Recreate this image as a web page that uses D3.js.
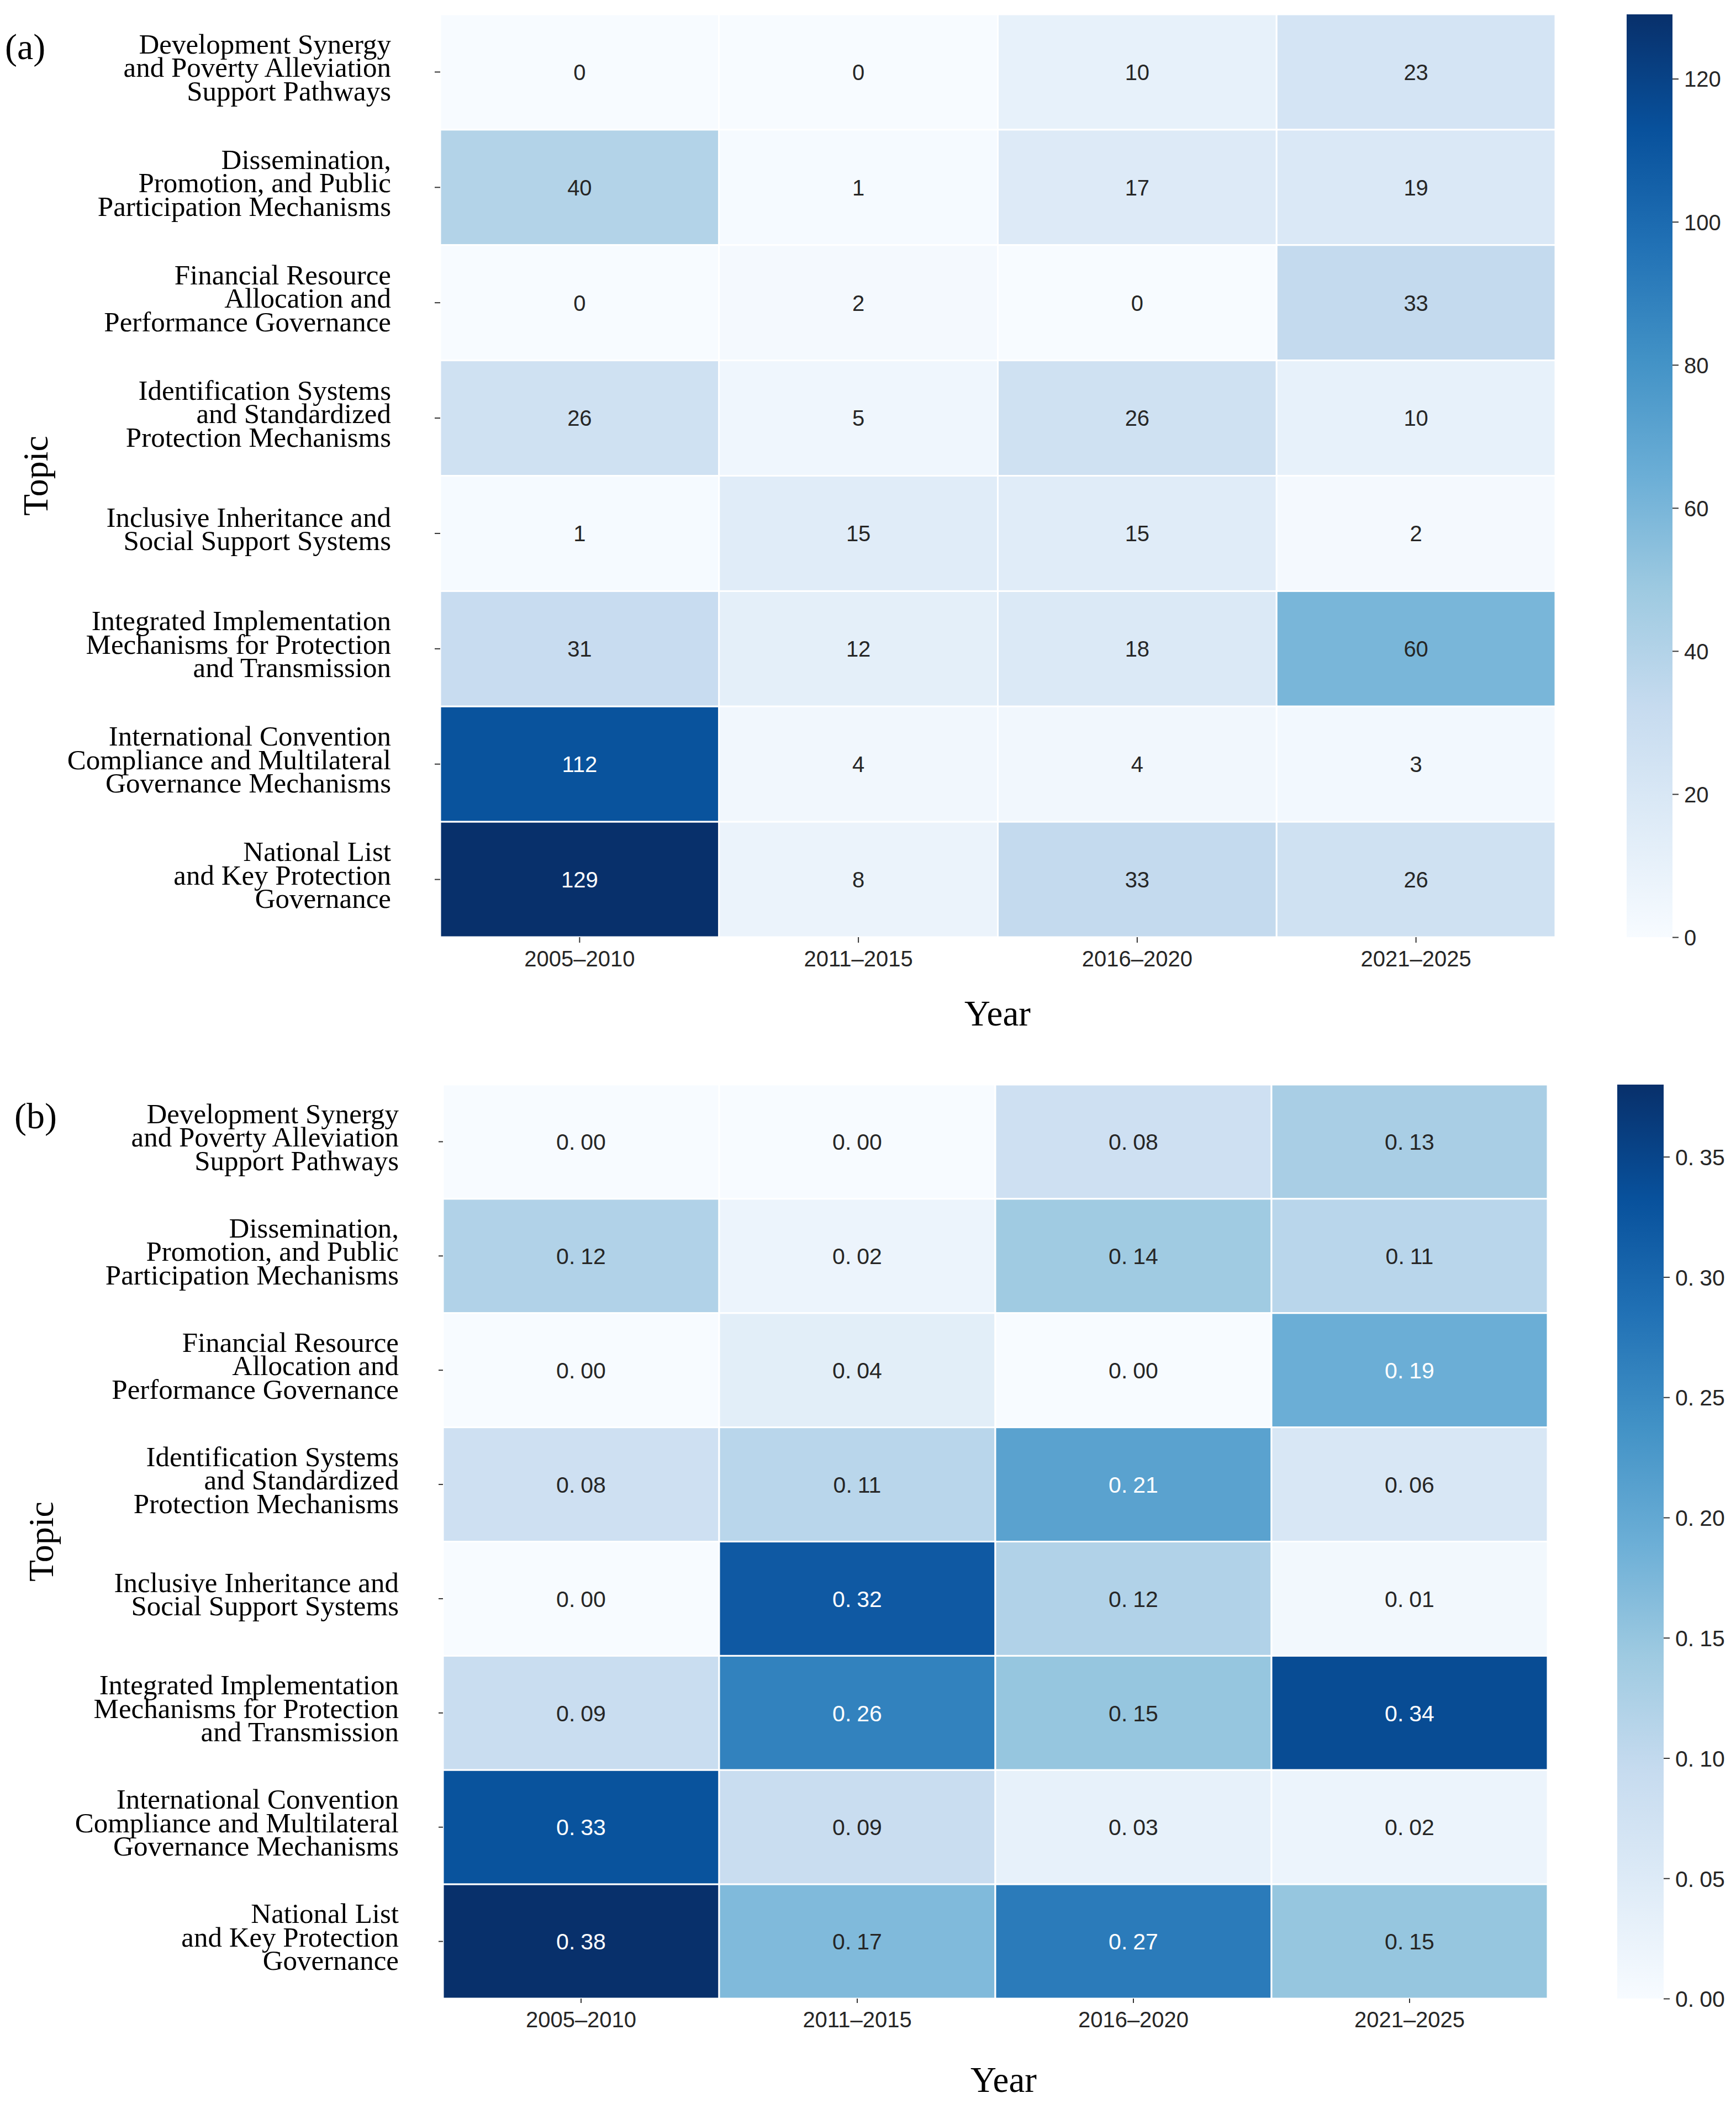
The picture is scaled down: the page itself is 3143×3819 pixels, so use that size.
<!DOCTYPE html>
<html lang="en">
<head>
<meta charset="UTF-8">
<title>Topic by period heatmaps</title>
<script src="https://cdn.jsdelivr.net/npm/d3@7"></script>
<style>
  body { margin: 0; background: #fff; }
  svg { display: block; }
  .serif { font-family: "Liberation Serif", "Times New Roman", serif; fill: #000; }
  .sans { font-family: "Liberation Sans", Arial, sans-serif; }
  .tick line { stroke: #333; stroke-width: 2; }
</style>
</head>
<body>
<svg id="chart" width="3143" height="3819"></svg>
<script>

// topics, top to bottom (line breaks as in the figure)
var topics = [
    "Development Synergy\nand Poverty Alleviation\nSupport Pathways",
    "Dissemination,\nPromotion, and Public\nParticipation Mechanisms",
    "Financial Resource\nAllocation and\nPerformance Governance",
    "Identification Systems\nand Standardized\nProtection Mechanisms",
    "Inclusive Inheritance and\nSocial Support Systems",
    "Integrated Implementation\nMechanisms for Protection\nand Transmission",
    "International Convention\nCompliance and Multilateral\nGovernance Mechanisms",
    "National List\nand Key Protection\nGovernance"
];

var years = ["2005\u20132010", "2011\u20132015", "2016\u20132020", "2021\u20132025"];

// (a) number of documents
var counts = [
    [0, 0, 10, 23],
    [40, 1, 17, 19],
    [0, 2, 0, 33],
    [26, 5, 26, 10],
    [1, 15, 15, 2],
    [31, 12, 18, 60],
    [112, 4, 4, 3],
    [129, 8, 33, 26]
];

// (b) share within each period
var shares = [
    [0.00, 0.00, 0.08, 0.13],
    [0.12, 0.02, 0.14, 0.11],
    [0.00, 0.04, 0.00, 0.19],
    [0.08, 0.11, 0.21, 0.06],
    [0.00, 0.32, 0.12, 0.01],
    [0.09, 0.26, 0.15, 0.34],
    [0.33, 0.09, 0.03, 0.02],
    [0.38, 0.17, 0.27, 0.15]
];

var countTicks = [0, 20, 40, 60, 80, 100, 120];
var shareTicks = [0, 0.05, 0.10, 0.15, 0.20, 0.25, 0.30, 0.35];

// matplotlib "Blues"
var blues = ["#f7fbff", "#deebf7", "#c6dbef", "#9ecae1", "#6baed6",
             "#4292c6", "#2171b5", "#08519c", "#08306b"];

var svg = d3.select("#chart");
var defs = svg.append("defs");

// seaborn picks white or dark text from the cell luminance
function textColor(fill) {
    var c = d3.rgb(fill);
    var lin = [c.r, c.g, c.b].map(function (v) {
        v = v / 255;
        return v <= 0.03928 ? v / 12.92 : Math.pow((v + 0.055) / 1.055, 2.4);
    });
    var lum = 0.2126 * lin[0] + 0.7152 * lin[1] + 0.0722 * lin[2];
    return lum > 0.408 ? "#262626" : "#ffffff";
}

// "0.13" drawn the way the CJK font does it: the point sits in a wide cell
function wideDecimal(sel, fmt) {
    sel.each(function (v) {
        var s = fmt(v), k = s.indexOf(".");
        var t = d3.select(this).text(null);
        t.append("tspan").text(s.slice(0, k + 1));
        t.append("tspan").attr("dx", 10).text(s.slice(k + 1));
    });
}

function drawPanel(o) {
    var g = svg.append("g");

    var x = d3.scaleBand().domain(years).range([o.x0, o.x1]);
    var y = d3.scaleBand().domain(topics).range([o.y0, o.y1]);

    var vmax = d3.max(o.values.flat());
    var color = d3.scaleLinear()
        .domain(blues.map(function (c, i) { return vmax * i / (blues.length - 1); }))
        .range(blues)
        .clamp(true);

    var cells = [];
    topics.forEach(function (t, i) {
        years.forEach(function (yr, j) {
            cells.push({ topic: t, year: yr, value: o.values[i][j] });
        });
    });

    g.selectAll("rect.cell")
        .data(cells)
        .join("rect")
        .attr("class", "cell")
        .attr("x", function (d) { return x(d.year); })
        .attr("y", function (d) { return y(d.topic); })
        .attr("width", x.bandwidth())
        .attr("height", y.bandwidth())
        .attr("fill", function (d) { return color(d.value); })
        .attr("stroke", "#fff")
        .attr("stroke-width", 3);

    var ann = g.selectAll("text.ann")
        .data(cells)
        .join("text")
        .attr("class", "ann sans")
        .attr("x", function (d) { return x(d.year) + x.bandwidth() / 2; })
        .attr("y", function (d) { return y(d.topic) + y.bandwidth() / 2 + o.annFont * 0.36; })
        .attr("text-anchor", "middle")
        .attr("font-size", o.annFont)
        .attr("fill", function (d) { return textColor(color(d.value)); });
    if (o.decimals) {
        ann.each(function (d) { d3.select(this).datum(d.value); });
        wideDecimal(ann, d3.format(".2f"));
    } else {
        ann.text(function (d) { return d.value; });
    }

    // x axis
    var xa = g.append("g")
        .attr("transform", "translate(0," + o.y1 + ")")
        .call(d3.axisBottom(x).tickSize(o.tick));
    xa.select(".domain").remove();
    xa.selectAll("text")
        .attr("class", "sans")
        .attr("dy", null)
        .attr("y", o.xtickBase - o.y1)
        .attr("font-size", 40)
        .attr("fill", "#262626");

    // y axis: ticks only, labels written below as several lines
    var ya = g.append("g")
        .attr("transform", "translate(" + o.x0 + ",0)")
        .call(d3.axisLeft(y).tickSize(o.tick).tickFormat(""));
    ya.select(".domain").remove();

    var lineGap = 42.5;
    topics.forEach(function (t) {
        var lines = t.split("\n");
        var cy = y(t) + y.bandwidth() / 2;
        var txt = g.append("text")
            .attr("class", "serif")
            .attr("text-anchor", "end")
            .attr("font-size", 51);
        lines.forEach(function (ln, i) {
            txt.append("tspan")
                .attr("x", o.labelRight)
                .attr("y", cy + (i - (lines.length - 1) / 2) * lineGap + 9)
                .text(ln);
        });
    });

    // titles
    g.append("text")
        .attr("class", "serif")
        .attr("font-size", 65)
        .attr("text-anchor", "middle")
        .attr("x", o.yearX)
        .attr("y", o.yearBase)
        .text("Year");

    g.append("text")
        .attr("class", "serif")
        .attr("font-size", 64)
        .attr("text-anchor", "middle")
        .attr("transform", "translate(" + o.topicX + "," + ((o.y0 + o.y1) / 2) + ") rotate(-90)")
        .text("Topic");

    g.append("text")
        .attr("class", "serif")
        .attr("font-size", 66)
        .attr("x", o.tagX)
        .attr("y", o.tagBase)
        .text(o.tag);

    // colour bar
    var gid = "grad-" + o.tag.replace(/\W/g, "");
    var grad = defs.append("linearGradient")
        .attr("id", gid)
        .attr("x1", 0).attr("y1", 1).attr("x2", 0).attr("y2", 0);
    blues.forEach(function (c, i) {
        grad.append("stop")
            .attr("offset", i / (blues.length - 1))
            .attr("stop-color", c);
    });

    var cs = d3.scaleLinear().domain([0, vmax]).range([o.y1, o.y0]);
    g.append("rect")
        .attr("x", o.cbX)
        .attr("y", o.y0)
        .attr("width", o.cbW)
        .attr("height", o.y1 - o.y0)
        .attr("fill", "url(#" + gid + ")");

    var ca = g.append("g")
        .attr("transform", "translate(" + (o.cbX + o.cbW) + ",0)")
        .call(d3.axisRight(cs).tickValues(o.ticks).tickSize(11).tickPadding(10));
    ca.select(".domain").remove();
    var ct = ca.selectAll("text")
        .attr("class", "sans")
        .attr("dy", "0.36em")
        .attr("font-size", o.decimals ? 41 : 40)
        .attr("fill", "#262626");
    if (o.decimals) wideDecimal(ct, d3.format(".2f"));
}

drawPanel({
    tag: "(a)", values: counts, ticks: countTicks, decimals: false,
    x0: 797, x1: 2816, y0: 26, y1: 1697,
    cbX: 2945, cbW: 83, tick: 10, annFont: 40,
    labelRight: 708, topicX: 86, tagX: 9, tagBase: 107,
    xtickBase: 1750, yearX: 1806, yearBase: 1857
});

drawPanel({
    tag: "(b)", values: shares, ticks: shareTicks, decimals: true,
    x0: 802, x1: 2802, y0: 1964, y1: 3619,
    cbX: 2928, cbW: 84, tick: 8, annFont: 41,
    labelRight: 722, topicX: 96, tagX: 26, tagBase: 2043,
    xtickBase: 3671, yearX: 1817, yearBase: 3788
});

</script>
</body>
</html>
